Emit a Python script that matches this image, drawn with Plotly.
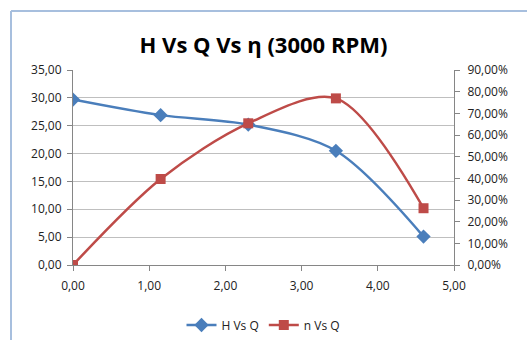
import plotly.graph_objects as go

# Pump test at 3000 RPM: flow Q, head H and efficiency
q_flow = [0.00, 1.15, 2.30, 3.45, 4.60]
h_head = [29.7, 26.9, 25.2, 20.5, 5.1]
eta = [0.00, 0.397, 0.654, 0.769, 0.262]

blue = "#4A7EBB"
red = "#BE4B48"
grid = "#BFBFBF"
font_family = "Open Sans, Liberation Sans, sans-serif"

W, H = 527, 340
ml, mr, mt, mb = 73, 73, 70, 75
pw, ph = W - ml - mr, H - mt - mb


def px_x(p):
    return (p - ml) / pw


def px_y(p):
    return (H - mb - p) / ph


fig = go.Figure()
fig.add_trace(go.Scatter(
    x=q_flow, y=h_head, name="H Vs Q", mode="lines+markers",
    line=dict(color=blue, width=2.5, shape="spline", smoothing=0.9),
    marker=dict(symbol="diamond", size=11, color=blue),
))
fig.add_trace(go.Scatter(
    x=q_flow, y=eta, name="n Vs Q", mode="lines+markers", yaxis="y2",
    line=dict(color=red, width=2.5, shape="spline", smoothing=0.9),
    marker=dict(symbol="square", size=10, color=red),
))

axis_font = dict(family=font_family, size=12, color="#222222")
fig.update_layout(
    width=W, height=H,
    margin=dict(l=ml, r=mr, t=mt, b=mb, autoexpand=False),
    paper_bgcolor="white", plot_bgcolor="white",
    separators=",.",
    title=dict(text="<b>H Vs Q Vs η (3000 RPM)</b>", x=0.5, xanchor="center",
               y=1 - 45 / H, yanchor="middle",
               font=dict(family=font_family, size=22, color="#000000")),
    xaxis=dict(range=[0, 5], dtick=1, tickformat=".2f", showgrid=False,
               showline=True, linecolor="#868686", linewidth=1,
               ticks="outside", ticklen=5, tickcolor="#868686",
               ticklabelstandoff=5,
               tickfont=axis_font, zeroline=False, fixedrange=True),
    yaxis=dict(range=[0, 35], dtick=5, tickformat=".2f", showgrid=True,
               gridcolor=grid, gridwidth=1, showline=True,
               linecolor="#868686", ticks="outside", ticklen=5,
               tickcolor="#868686", ticklabelstandoff=3,
               tickfont=axis_font, zeroline=False),
    yaxis2=dict(range=[0, 0.9], dtick=0.1, tickformat=".2%", overlaying="y",
                side="right", showgrid=False, showline=True,
                linecolor="#868686", ticks="outside", ticklen=5,
                tickcolor="#868686", ticklabelstandoff=5,
                tickfont=axis_font, zeroline=False),
    legend=dict(orientation="h", x=0.5, xanchor="center",
                yref="container", y=1 - 325 / H, yanchor="middle",
                font=dict(family=font_family, size=12, color="#222222"),
                itemwidth=30, bgcolor="rgba(0,0,0,0)"),
    shapes=[
        dict(type="line", xref="paper", yref="paper",
             x0=px_x(11), x1=px_x(11), y0=px_y(11), y1=px_y(H),
             line=dict(color="#A7BFDE", width=2)),
        dict(type="line", xref="paper", yref="paper",
             x0=px_x(11), x1=px_x(W), y0=px_y(11), y1=px_y(11),
             line=dict(color="#A7BFDE", width=2)),
    ],
)

fig.write_html("out.html")
